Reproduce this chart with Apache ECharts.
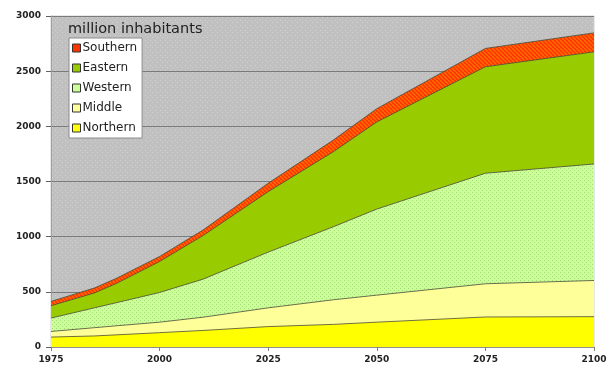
<!DOCTYPE html>
<html>
<head>
<meta charset="utf-8">
<script src="https://cdn.jsdelivr.net/npm/echarts@6/dist/echarts.min.js"></script>
<style>
  html, body { margin: 0; padding: 0; background: #ffffff; }
  #chart { width: 610px; height: 371px; }
</style>
</head>
<body>
<div id="chart"></div>
<script>
// Population by region, million inhabitants (stacked bands)
const years    = [1975, 1985, 1990, 2000, 2010, 2025, 2040, 2050, 2075, 2100];
const northern = [90, 100, 110, 130, 150, 185, 205, 225, 272, 275];
const middle   = [51, 75, 82, 95, 120, 170, 223, 245, 301, 328];
const western  = [121, 180, 209, 269, 345, 505, 662, 780, 1002, 1056];
const eastern  = [112, 135, 174, 281, 395, 548, 680, 790, 965, 1016];
const southern = [39, 45, 46, 45, 50, 76, 106, 120, 166, 172];

const xTickLabels = ['1975', '2000', '2025', '2050', '2075', '2100'];
const yTickLabels = ['0', '500', '1000', '1500', '2000', '2500', '3000'];
const legendOrder = ['Southern', 'Eastern', 'Western', 'Middle', 'Northern'];

// Small repeating fills
function dotPattern(base, dot, size) {
  const c = document.createElement('canvas');
  c.width = size; c.height = size;
  const g = c.getContext('2d');
  g.fillStyle = base; g.fillRect(0, 0, size, size);
  g.fillStyle = dot;
  g.fillRect(0, 0, 1, 1);
  g.fillRect(Math.floor(size / 2), Math.floor(size / 2), 1, 1);
  return { image: c, repeat: 'repeat' };
}
function stripePattern(a, b) {
  const s = 4;
  const c = document.createElement('canvas');
  c.width = s; c.height = s;
  const g = c.getContext('2d');
  g.fillStyle = a; g.fillRect(0, 0, s, s);
  g.strokeStyle = b; g.lineWidth = 1.4;
  for (let k = -s; k <= 2 * s; k += s) {
    g.beginPath(); g.moveTo(k, 0); g.lineTo(k + s, s); g.stroke();
  }
  return { image: c, repeat: 'repeat' };
}

const fills = {
  Northern: { solid: '#ffff00', area: '#ffff00' },
  Middle:   { solid: '#ffff99', area: '#ffff99' },
  Western:  { solid: '#ccff99', area: dotPattern('#ccff99', '#a3dc74', 4) },
  Eastern:  { solid: '#99cc00', area: '#99cc00' },
  Southern: { solid: '#ff3300', area: stripePattern('#ff3300', '#ff6e00') }
};

// Bottom-to-top stacking order; each band is drawn as the running total,
// with lower bands painted over the higher ones.
const stackOrder = [
  ['Northern', northern],
  ['Middle', middle],
  ['Western', western],
  ['Eastern', eastern],
  ['Southern', southern]
];
const running = years.map(() => 0);
const cumulative = stackOrder.map(([name, vals]) => {
  vals.forEach((v, i) => { running[i] += v; });
  return [name, running.slice()];
});

function areaSeries(name, tops, z) {
  return {
    name: name,
    type: 'line',
    data: years.map((y, i) => [y, tops[i]]),
    symbol: 'none',
    smooth: false,
    z: z,
    itemStyle: { color: fills[name].solid },
    lineStyle: { color: '#4a4a3a', width: 0.8 },
    areaStyle: { color: fills[name].area, opacity: 1, origin: 'start' },
    emphasis: { disabled: true }
  };
}

const chart = echarts.init(document.getElementById('chart'), null, { renderer: 'canvas' });

const axisFont = { fontFamily: 'DejaVu Sans', fontSize: 9, fontWeight: 'bold', color: '#222' };

chart.setOption({
  animation: false,
  backgroundColor: '#ffffff',
  title: {
    text: 'million inhabitants',
    left: 63, top: 17,
    textStyle: { fontFamily: 'DejaVu Sans', fontSize: 14.5, fontWeight: 'normal', color: '#222' }
  },
  legend: {
    data: legendOrder.map(n => ({ name: n, itemStyle: { color: fills[n].solid, borderColor: '#333', borderWidth: 1 } })),
    orient: 'vertical',
    left: 69, top: 38,
    icon: 'rect',
    itemWidth: 8, itemHeight: 8, itemGap: 8,
    padding: [4, 5, 4, 3],
    backgroundColor: '#ffffff',
    borderColor: '#8c8c8c', borderWidth: 1,
    textStyle: { fontFamily: 'DejaVu Sans', fontSize: 12, color: '#222', padding: [0, 0, 0, -3], lineHeight: 12 },
    selectedMode: false
  },
  grid: {
    left: 51, right: 16, top: 16, bottom: 24,
    show: true,
    backgroundColor: dotPattern('#c0c0c0', '#d2d2d2', 5),
    borderColor: '#d0d0d0', borderWidth: 1
  },
  xAxis: {
    type: 'value', min: 1975, max: 2100, interval: 25,
    axisLine: { show: true, onZero: false, lineStyle: { color: '#909090' } },
    axisTick: { show: true, length: 4, lineStyle: { color: '#808080' } },
    splitLine: { show: false },
    axisLabel: Object.assign({ margin: 8, formatter: v => xTickLabels[(v - 1975) / 25] }, axisFont)
  },
  yAxis: {
    type: 'value', min: 0, max: 3000, interval: 500,
    axisLine: { show: true, lineStyle: { color: '#a0a0a0' } },
    axisTick: { show: true, length: 5, lineStyle: { color: '#606060' } },
    splitLine: { show: true, lineStyle: { color: '#7a7a7a', width: 1 } },
    axisLabel: Object.assign({ margin: 10, formatter: v => yTickLabels[v / 500] }, axisFont)
  },
  series: cumulative.map(([name, tops], k) => areaSeries(name, tops, 10 - k))
});
</script>
</body>
</html>
